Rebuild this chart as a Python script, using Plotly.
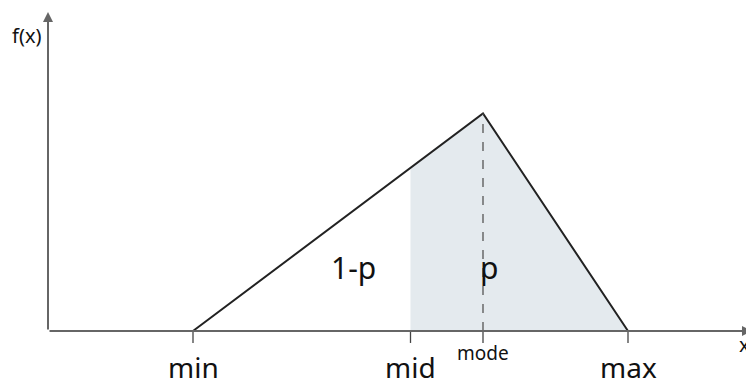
import plotly.graph_objects as go

# triangular distribution parameters (x units)
x_min, x_mid, x_mode, x_max = 2, 5, 6, 8
peak = 3.0
tick_names = ["min", "mid", "mode", "max"]
area_labels = ["1-p", "p"]

x_end, y_end = 9.71, 4.4
f_mid = peak * (x_mid - x_min) / (x_mode - x_min)

FONT = "Noto Sans"
axis_col = "#666666"

# page body has an 8px margin, so the figure is 8px smaller than the window
W, H = 746, 379
px = 72.5  # pixels per unit
ox, oy = 40, 323  # origin in figure pixels

fig = go.Figure()

# shaded part, mid -> max
fig.add_trace(go.Scatter(
    x=[x_mid, x_mid, x_mode, x_max, x_mid],
    y=[0, f_mid, peak, 0, 0],
    fill="toself", fillcolor="#e4eaee", line=dict(width=0),
    mode="lines", hoverinfo="skip",
))
# triangle outline
fig.add_trace(go.Scatter(
    x=[x_min, x_mode, x_max], y=[0, peak, 0],
    mode="lines", line=dict(color="#222222", width=2), hoverinfo="skip",
))

shapes = [
    dict(type="line", x0=x_mode, x1=x_mode, y0=0, y1=peak,
         line=dict(color="#555555", width=1.3, dash="dash")),
]
for xv in [x_min, x_mid, x_mode, x_max]:
    shapes.append(dict(type="line", x0=xv, x1=xv, y0=0, y1=-0.165,
                       line=dict(color="#444444", width=1.3)))

annotations = [
    # axes with arrow heads
    dict(x=x_end, y=0, ax=0, ay=0, xref="x", yref="y", axref="x", ayref="y",
         showarrow=True, arrowhead=2, arrowsize=1, arrowwidth=2,
         arrowcolor=axis_col, text=""),
    dict(x=0, y=y_end, ax=0, ay=0, xref="x", yref="y", axref="x", ayref="y",
         showarrow=True, arrowhead=2, arrowsize=1, arrowwidth=2,
         arrowcolor=axis_col, text=""),
    dict(x=-0.29, y=4.08, text="f(x)", showarrow=False,
         font=dict(family=FONT, size=20, color="#111")),
    dict(x=9.6, y=-0.19, text="x", showarrow=False,
         font=dict(family=FONT, size=20, color="#111")),
    dict(x=4.21, y=0.88, text=area_labels[0], showarrow=False,
         font=dict(family=FONT, size=30, color="#111")),
    dict(x=6.08, y=0.88, text=area_labels[1], showarrow=False,
         font=dict(family=FONT, size=30, color="#111")),
]
for xv, name in zip([x_min, x_mid, x_mode, x_max], tick_names):
    if name == "mode":
        annotations.append(dict(x=xv, y=-0.3, text=name, showarrow=False,
                                font=dict(family=FONT, size=19, color="#111")))
    else:
        annotations.append(dict(x=xv, y=-0.5, text=name, showarrow=False,
                                font=dict(family=FONT, size=28, color="#111")))

fig.update_layout(
    width=W, height=H,
    margin=dict(l=0, r=0, t=0, b=0),
    paper_bgcolor="white", plot_bgcolor="white",
    showlegend=False,
    shapes=shapes, annotations=annotations,
    xaxis=dict(range=[-ox / px, (W - ox) / px], visible=False, fixedrange=True),
    yaxis=dict(range=[-(H - oy) / px, oy / px], visible=False, fixedrange=True),
)

fig.write_html("out.html")
